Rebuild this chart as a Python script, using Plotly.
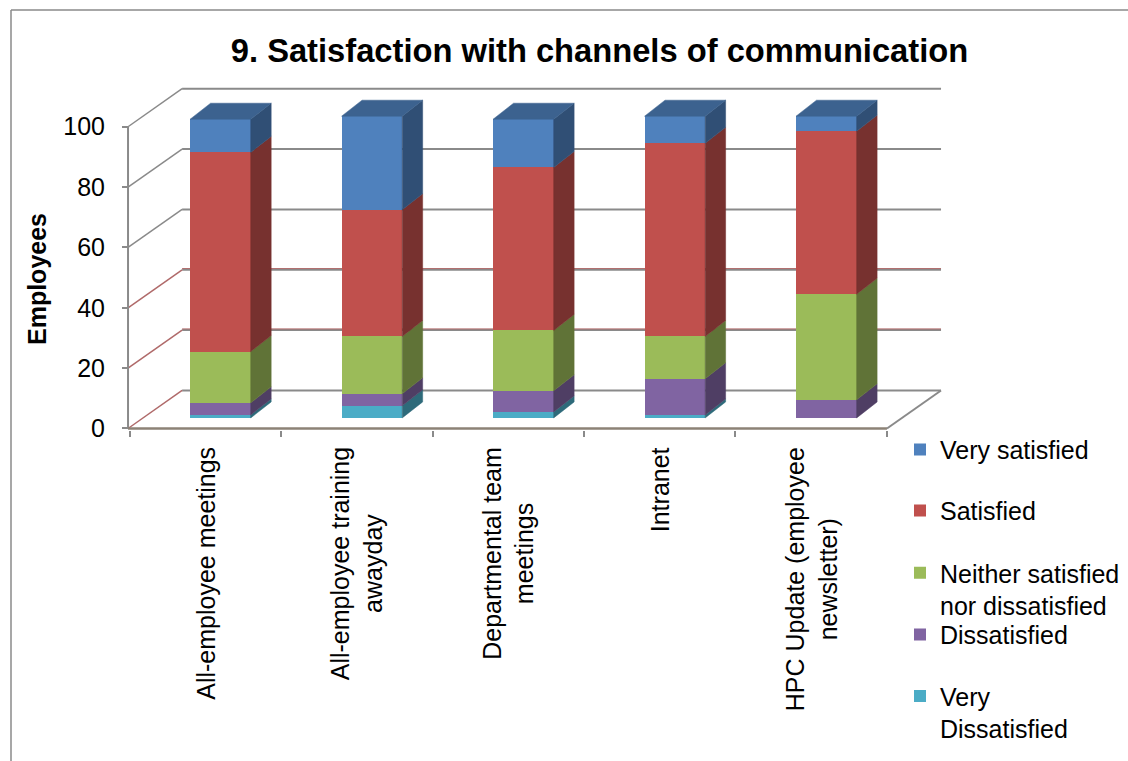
import plotly.graph_objects as go

# ---------------- data ----------------
categories = [
    "All-employee meetings",
    "All-employee training<br>awayday",
    "Departmental team<br>meetings",
    "Intranet",
    "HPC Update (employee<br>newsletter)",
]
very_dissatisfied = [1, 4, 2, 1, 0]
dissatisfied = [4, 4, 7, 12, 6]
neither = [17, 19, 20, 14, 35]
satisfied = [66, 42, 54, 64, 54]
very_satisfied = [11, 31, 16, 9, 5]
y_ticks = [0, 20, 40, 60, 80, 100]

series_names = [
    "Very<br>Dissatisfied",
    "Dissatisfied",
    "Neither satisfied<br>nor dissatisfied",
    "Satisfied",
    "Very satisfied",
]
series_values = [very_dissatisfied, dissatisfied, neither, satisfied, very_satisfied]
front_colors = ["#4BACC6", "#8064A2", "#9BBB59", "#C0504D", "#4F81BD"]
legend_ids = ["legend5", "legend4", "legend3", "legend2", "legend"]

# ---------------- geometry of the pseudo-3D frame ----------------
W, H = 1128, 761
ML, MR, MT, MB = 125, 185, 86, 331
XR = [-0.53, 4.87]          # x range (category units)
YR = [-0.5, 113.5]          # y range (value units, front plane)
X0, X1 = -0.51, 4.5         # floor front edge
DX, DY = 0.357, 12.6        # depth vector front -> back wall
FDX, FDY = 0.10, 3.5        # offset of the bar front faces
BDX, BDY = 0.135, 5.3       # depth of each column
BW = 0.40                   # column width

PW = W - ML - MR
PH = H - MT - MB


def px_to_paper_x(px):
    return (px - ML) / PW


def px_to_paper_y(py):
    return (H - MB - py) / PH


def shade(hex_color, k):
    r, g, b = (int(hex_color[i:i + 2], 16) for i in (1, 3, 5))
    return "rgb({},{},{})".format(int(r * k), int(g * k), int(b * k))


FONT = "Liberation Sans, Arial, sans-serif"
FS = 25
fig = go.Figure()

# ---------------- column side and top faces ----------------
n = len(categories)
xs = [i + FDX for i in range(n)]
cum = [0] * n
top_series = [0] * n
for s, vals in enumerate(series_values):
    sx, sy = [], []
    for i, v in enumerate(vals):
        if v <= 0:
            continue
        lo, hi = cum[i], cum[i] + v
        xr = xs[i] + BW / 2
        sx += [xr, xr + BDX, xr + BDX, xr, xr, None]
        sy += [lo, lo + BDY, hi + BDY, hi, lo, None]
        cum[i] = hi
        top_series[i] = s
    fig.add_trace(go.Scatter(
        x=sx, y=sy, mode="lines", fill="toself",
        fillcolor=shade(front_colors[s], 0.62),
        line=dict(width=0.5, color=shade(front_colors[s], 0.62)),
        yaxis="y2", showlegend=False, hoverinfo="skip",
    ))

for s in range(len(series_values)):
    tx, ty = [], []
    for i in range(n):
        if top_series[i] != s:
            continue
        xl, xr, top = xs[i] - BW / 2, xs[i] + BW / 2, cum[i]
        tx += [xl, xl + BDX, xr + BDX, xr, xl, None]
        ty += [top, top + BDY, top + BDY, top, top, None]
    if tx:
        fig.add_trace(go.Scatter(
            x=tx, y=ty, mode="lines", fill="toself",
            fillcolor=shade(front_colors[s], 0.76),
            line=dict(width=0.5, color=shade(front_colors[s], 0.76)),
            yaxis="y2", showlegend=False, hoverinfo="skip",
        ))

# ---------------- column front faces (stacked bars) ----------------
for s, vals in enumerate(series_values):
    fig.add_trace(go.Bar(
        x=xs, y=vals, width=BW, name=series_names[s],
        marker=dict(color=front_colors[s], line=dict(width=0)),
        yaxis="y2", legend=legend_ids[s],
    ))

# ---------------- walls, floor and gridlines ----------------
GRID = "#8a8a8a"
RED_GRID = "#b06a6a"
shapes = []


def seg(xa, ya, xb, yb, color, width):
    shapes.append(dict(type="line", xref="x", yref="y", x0=xa, y0=ya, x1=xb, y1=yb,
                       line=dict(color=color, width=width), layer="below"))


for t in y_ticks:
    tinted = t in (20, 40)
    seg(X0 + DX, t + DY, X1 + DX, t + DY, GRID, 2)
    if tinted:
        seg(X0 + DX, t + DY + 0.4, X1 + DX, t + DY + 0.4, RED_GRID, 1)
    seg(X0, t, X0 + DX, t + DY, RED_GRID if (tinted or t == 0) else GRID, 1.5)
seg(X0, 0, X0, y_ticks[-1], GRID, 2)            # front vertical axis
seg(X0, 0, X1, 0, "#8c8276", 2.5)               # floor front edge
seg(X1, 0, X1 + DX, DY, GRID, 2)                # floor right edge

# chart area border (top and left)
shapes.append(dict(type="line", xref="paper", yref="paper",
                   x0=px_to_paper_x(11), y0=px_to_paper_y(10),
                   x1=px_to_paper_x(W), y1=px_to_paper_y(10),
                   line=dict(color="#8a8a8a", width=1.5)))
shapes.append(dict(type="line", xref="paper", yref="paper",
                   x0=px_to_paper_x(11), y0=px_to_paper_y(10),
                   x1=px_to_paper_x(11), y1=px_to_paper_y(H),
                   line=dict(color="#8a8a8a", width=1.5)))

# ---------------- category labels ----------------
annotations = []
for i, label in enumerate(categories):
    annotations.append(dict(
        x=i, xref="x", y=px_to_paper_y(445), yref="paper",
        text=label, textangle=-90, showarrow=False,
        xanchor="center", yanchor="top", align="center",
        font=dict(family=FONT, size=FS, color="black"),
    ))
annotations.append(dict(
    x=px_to_paper_x(37), xref="paper", y=px_to_paper_y(279), yref="paper",
    text="Employees", textangle=-90, showarrow=False,
    xanchor="center", yanchor="middle",
    font=dict(family=FONT, size=FS, color="black", weight="bold"),
))

# ---------------- legends (one per entry, evenly spaced) ----------------
legend_rows = {"legend": 450.7, "legend2": 511.7, "legend3": 574,
               "legend4": 635.7, "legend5": 697.3}
legend_layout = {}
for key, cy in legend_rows.items():
    legend_layout[key] = dict(
        x=px_to_paper_x(900), xanchor="left",
        y=px_to_paper_y(cy - 24), yanchor="top",
        font=dict(family=FONT, size=FS, color="black"),
        bgcolor="rgba(0,0,0,0)", valign="top", itemwidth=30,
        itemclick=False, itemdoubleclick=False,
    )

fig.update_layout(
    width=W, height=H,
    margin=dict(l=ML, r=MR, t=MT, b=MB, autoexpand=False),
    paper_bgcolor="white", plot_bgcolor="white",
    barmode="stack", bargap=0,
    title=dict(text="9. Satisfaction with channels of communication",
               x=599.5 / W, xanchor="center", y=1 - 51 / H, yanchor="middle",
               font=dict(family=FONT, size=32.7, color="black", weight="bold")),
    xaxis=dict(range=XR, showgrid=False, zeroline=False, showline=False,
               tickmode="array", tickvals=[k - 0.5 for k in range(n + 1)],
               ticks="outside", ticklen=6, tickcolor=GRID, tickwidth=1.5,
               showticklabels=False, fixedrange=True),
    yaxis=dict(range=YR, showgrid=False, zeroline=False, showline=False,
               anchor="free", position=(X0 - XR[0]) / (XR[1] - XR[0]),
               tickmode="array", tickvals=y_ticks,
               ticks="outside", ticklen=6, tickcolor=GRID, tickwidth=1.5,
               ticklabelstandoff=12,
               tickfont=dict(family=FONT, size=FS, color="black"), fixedrange=True),
    yaxis2=dict(range=[YR[0] - FDY, YR[1] - FDY], overlaying="y", visible=False,
                fixedrange=True),
    shapes=shapes,
    annotations=annotations,
    showlegend=True,
    **legend_layout,
)

fig.write_html("out.html")
